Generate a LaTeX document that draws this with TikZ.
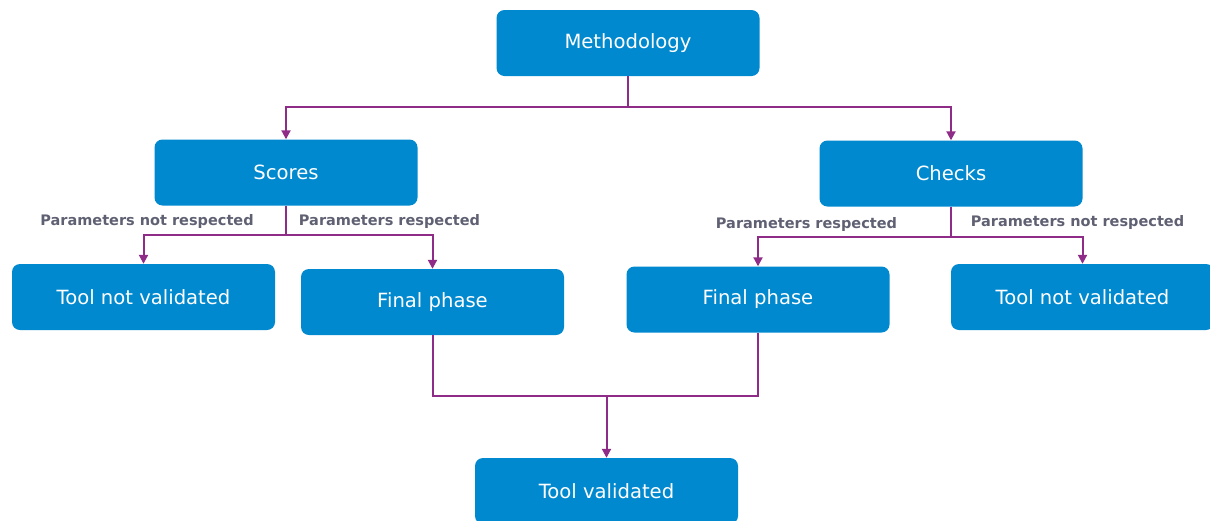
\documentclass[tikz,border=0pt]{standalone}
\usepackage{fontspec}
\setmainfont{DejaVu Sans}
\usetikzlibrary{arrows.meta,positioning,calc}
\definecolor{boxblue}{HTML}{0089CF}
\definecolor{linkpurple}{HTML}{8E2C88}
\definecolor{labelgray}{HTML}{5F6173}

\begin{document}
\begin{tikzpicture}[x=1pt, y=-1pt,
  box/.style={rectangle, rounded corners=8pt, fill=boxblue, text=white, minimum width=263pt, minimum height=66pt, align=center, font=\fontsize{19.6}{23}\selectfont},
  lbl/.style={font=\fontsize{14.5}{17}\selectfont\bfseries, text=labelgray, inner sep=0pt},
  line/.style={linkpurple, line width=2pt},
  arr/.style={-{Triangle[length=9pt, width=9pt]}, line}
]
  \useasboundingbox (0,0) rectangle (1210,520);
  % boxes
  \node[box] (meth) at (628, 43) {Methodology};
  \node[box] (scores) at (286, 172.5) {Scores};
  \node[box] (checks) at (951, 173.5) {Checks};
  \node[box] (notvalL) at (143.5, 297) {Tool not validated};
  \node[box] (finL) at (432.5, 302) {Final phase};
  \node[box] (finR) at (758, 299.5) {Final phase};
  \node[box] (notvalR) at (1082.5, 297) {Tool not validated};
  \node[box] (valid) at (606.5, 491) {Tool validated};
  % junctions
  \coordinate (jm) at (628, 107);
  \coordinate (js) at (286, 235);
  \coordinate (jc) at (951, 237);
  \coordinate (jf) at (606.5, 396);
  % labels
  \node[lbl] (sNo) at (147, 221) {Parameters not respected};
  \node[lbl] (sYes) at (389.5, 221) {Parameters respected};
  \node[lbl] (cYes) at (806.5, 224.5) {Parameters respected};
  \node[lbl] (cNo) at (1077.5, 222) {Parameters not respected};
  % connectors
  \draw[line] (meth.south) -- (jm);
  \draw[arr] (jm) -| (scores.north);
  \draw[arr] (jm) -| (checks.north);
  \draw[line] (scores.south) -- (js);
  \draw[arr] (js) -| (notvalL.north);
  \draw[arr] (js) -| (finL.north);
  \draw[line] (checks.south) -- (jc);
  \draw[arr] (jc) -| (finR.north);
  \draw[arr] (jc) -| (notvalR.north);
  \draw[line] (finL.south) |- (jf) -| (finR.south);
  \draw[arr] (jf) -- (valid.north);
\end{tikzpicture}
\end{document}
